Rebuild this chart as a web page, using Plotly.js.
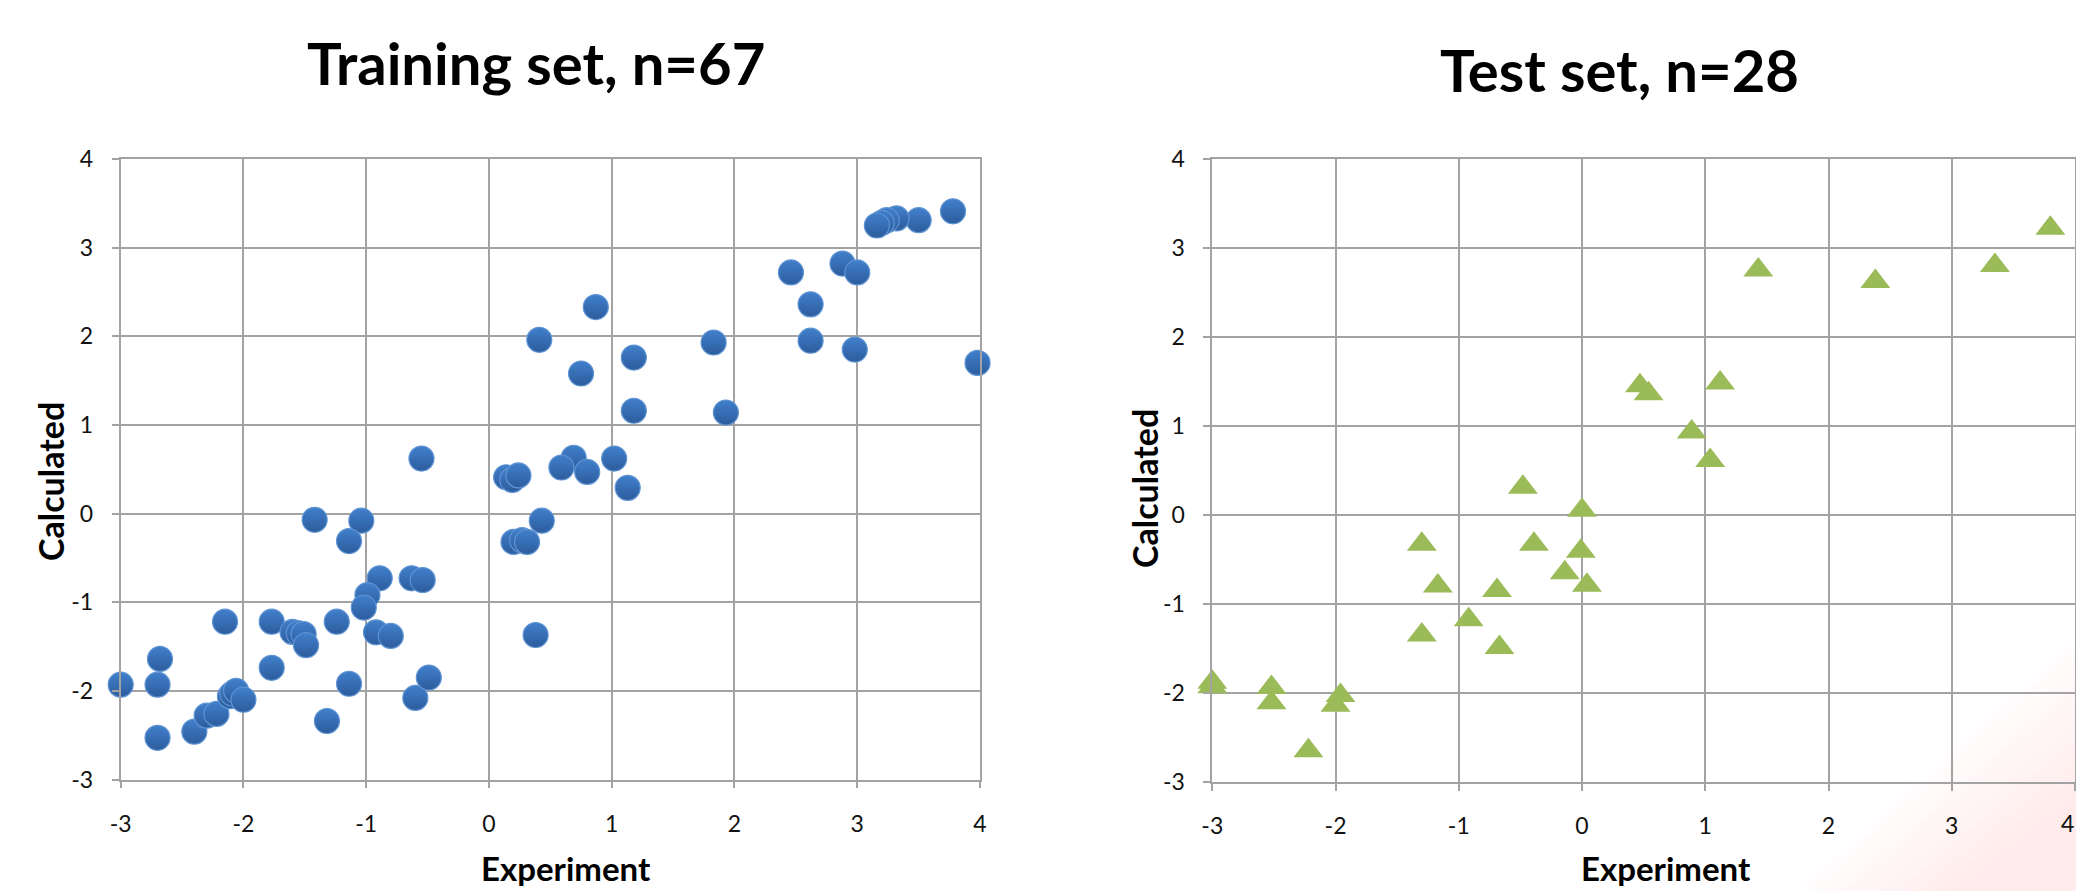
<!DOCTYPE html>
<html>
<head>
<meta charset="utf-8">
<script src="https://cdn.plot.ly/plotly-3.0.1.min.js"></script>
<style>
html,body{margin:0;padding:0;background:#ffffff;}
#chart{width:2076px;height:891px;}
</style>
</head>
<body>
<div id="chart"></div>
<script>
// ---------------- data ----------------
const trainTitle = "Training set, n=67";
const testTitle = "Test set, n=28";
const xTitle = "Experiment";
const yTitle = "Calculated";
const tickValues = [-3, -2, -1, 0, 1, 2, 3, 4];
const tickLabels = ["-3", "-2", "-1", "0", "1", "2", "3", "4"];

const trainX = [
  3.78, 3.50, 3.32, 3.24, 3.20, 3.16,
  2.88, 3.00, 2.46, 2.62, 2.62, 2.98, 3.98, 1.83, 1.93,
  0.87, 0.41, 1.18, 0.75, 1.18, 1.02, 0.69, 0.59, 0.80, 1.13,
  0.14, 0.19, 0.24, 0.43, 0.20, 0.27, 0.31, 0.38,
  -0.55, -1.42, -1.04, -1.14, -0.89, -0.63, -0.54, -0.99, -1.02,
  -2.15, -1.77, -1.24, -1.60, -1.55, -1.51, -1.49, -0.92, -0.80,
  -3.00, -2.70, -2.68, -2.70, -2.40, -2.30, -2.22, -2.11, -2.09,
  -2.06, -2.00, -1.77, -1.32, -1.14, -0.60, -0.49
];
const trainY = [
  3.41, 3.31, 3.33, 3.31, 3.28, 3.25,
  2.82, 2.72, 2.72, 2.36, 1.95, 1.85, 1.70, 1.93, 1.14,
  2.33, 1.96, 1.76, 1.58, 1.16, 0.62, 0.63, 0.52, 0.47, 0.29,
  0.41, 0.38, 0.43, -0.08, -0.32, -0.30, -0.32, -1.37,
  0.62, -0.07, -0.08, -0.31, -0.73, -0.73, -0.75, -0.92, -1.06,
  -1.22, -1.22, -1.22, -1.335, -1.35, -1.36, -1.485, -1.34, -1.38,
  -1.93, -1.93, -1.64, -2.53, -2.46, -2.28, -2.26, -2.06, -2.03,
  -2.00, -2.10, -1.74, -2.34, -1.92, -2.08, -1.85
];

const testX = [
  -3.00, -3.00, -2.52, -2.52, -1.96, -2.00, -2.22,
  -1.30, -1.30, -1.17, -0.92, -0.69, -0.67, -0.48, -0.39, -0.14,
  0.00, -0.01, 0.04, 0.47, 0.54, 1.12, 0.89, 1.04,
  1.43, 2.38, 3.35, 3.80
];
const testY = [
  -1.88, -1.93, -1.94, -2.11, -2.03, -2.14, -2.65,
  -0.33, -1.35, -0.80, -1.18, -0.85, -1.49, 0.31, -0.33, -0.65,
  0.05, -0.41, -0.79, 1.45, 1.36, 1.48, 0.93, 0.61,
  2.75, 2.62, 2.80, 3.22
];

// ---------------- layout helpers ----------------
const W = 2076, H = 891;
const fx = p => p / W;          // pixel x -> paper x
const fy = p => 1 - p / H;      // pixel y -> paper y
const gridColor = '#a3a3a3';
const FONT = 'Lato, "Open Sans", sans-serif';
const tickFont = {family: FONT, size: 23, color: '#111111'};

function makeAxis(domain, anchor, isX, labels) {
  return {
    domain: domain,
    anchor: anchor,
    range: [-3, 4],
    tickmode: 'array',
    tickvals: tickValues,
    ticktext: labels || tickLabels,
    showgrid: true,
    gridcolor: gridColor,
    gridwidth: 1.8,
    zeroline: false,
    showline: true,
    mirror: true,
    linecolor: gridColor,
    linewidth: 1.8,
    ticks: 'outside',
    ticklen: 7,
    tickwidth: 1.8,
    tickcolor: gridColor,
    ticklabelstandoff: isX ? 16 : 14,
    ticklabeloverflow: 'allow',
    tickfont: tickFont,
    fixedrange: true
  };
}

const traces = [
  {
    type: 'scatter', mode: 'markers',
    x: trainX, y: trainY, xaxis: 'x', yaxis: 'y',
    name: trainTitle, cliponaxis: false,
    marker: {
      symbol: 'circle', size: 25, color: '#4180cc',
      gradient: {type: 'vertical', color: '#2c5c9c'},
      line: {color: '#5f93d3', width: 1.2}
    },
    hoverinfo: 'x+y'
  },
  {
    type: 'scatter', mode: 'markers',
    x: testX, y: testY, xaxis: 'x2', yaxis: 'y2',
    name: testTitle, cliponaxis: false,
    marker: {symbol: 'triangle-up', size: 26, color: '#9bbb59', line: {width: 0}},
    hoverinfo: 'x+y'
  }
];

// pink soft watermark in lower right corner (many faint layers for a soft edge)
const pinkShapes = [];
for (let k = 0; k < 10; k++) {
  const bx = 1790 + k * 18;
  const ry = 630 + k * 18;
  pinkShapes.push({
    type: 'path', xref: 'paper', yref: 'paper', layer: 'below',
    path: `M ${fx(bx)},${fy(H)} L ${fx(W)},${fy(ry)} L ${fx(W)},${fy(H)} Z`,
    fillcolor: 'rgba(235,125,125,0.017)', line: {width: 0}
  });
}

// right panel: last x label sits at the page edge, drawn flush right so it stays visible
const rightLabels = tickLabels.slice(0, -1).concat([' ']);

const layout = {
  width: W, height: H,
  margin: {l: 0, r: 0, t: 0, b: 0, pad: 0},
  paper_bgcolor: '#ffffff',
  plot_bgcolor: 'rgba(0,0,0,0)',
  showlegend: false,
  xaxis: makeAxis([fx(120.7), fx(980)], 'y', true),
  yaxis: makeAxis([fy(779.5), fy(159)], 'x', false),
  xaxis2: makeAxis([fx(1212.3), fx(2075)], 'y2', true, rightLabels),
  yaxis2: makeAxis([fy(781.9), fy(158.7)], 'x2', false),
  shapes: pinkShapes,
  annotations: [
    {text: trainTitle, xref: 'paper', yref: 'paper', x: fx(535.5), y: fy(62), xanchor: 'center', yanchor: 'middle',
     showarrow: false, font: {family: FONT, size: 58, color: '#000', weight: 'bold'}},
    {text: testTitle, xref: 'paper', yref: 'paper', x: fx(1619), y: fy(70), xanchor: 'center', yanchor: 'middle',
     showarrow: false, font: {family: FONT, size: 58, color: '#000', weight: 'bold'}},
    {text: yTitle, xref: 'paper', yref: 'paper', x: fx(50), y: fy(482), xanchor: 'center', yanchor: 'middle', textangle: -90,
     showarrow: false, font: {family: FONT, size: 34, color: '#000', weight: 'bold'}},
    {text: yTitle, xref: 'paper', yref: 'paper', x: fx(1144), y: fy(489), xanchor: 'center', yanchor: 'middle', textangle: -90,
     showarrow: false, font: {family: FONT, size: 34, color: '#000', weight: 'bold'}},
    {text: xTitle, xref: 'paper', yref: 'paper', x: fx(566), y: fy(H - 1), xanchor: 'center', yanchor: 'bottom',
     showarrow: false, font: {family: FONT, size: 33, color: '#000', weight: 'bold'}},
    {text: xTitle, xref: 'paper', yref: 'paper', x: fx(1666), y: fy(H - 1), xanchor: 'center', yanchor: 'bottom',
     showarrow: false, font: {family: FONT, size: 33, color: '#000', weight: 'bold'}},
    {text: tickLabels[tickLabels.length - 1], xref: 'paper', yref: 'paper', x: fx(W - 1), y: fy(823), xanchor: 'right', yanchor: 'middle',
     showarrow: false, font: tickFont, borderpad: 0}
  ]
};

Plotly.newPlot('chart', traces, layout, {displayModeBar: false, responsive: false});
</script>
</body>
</html>
